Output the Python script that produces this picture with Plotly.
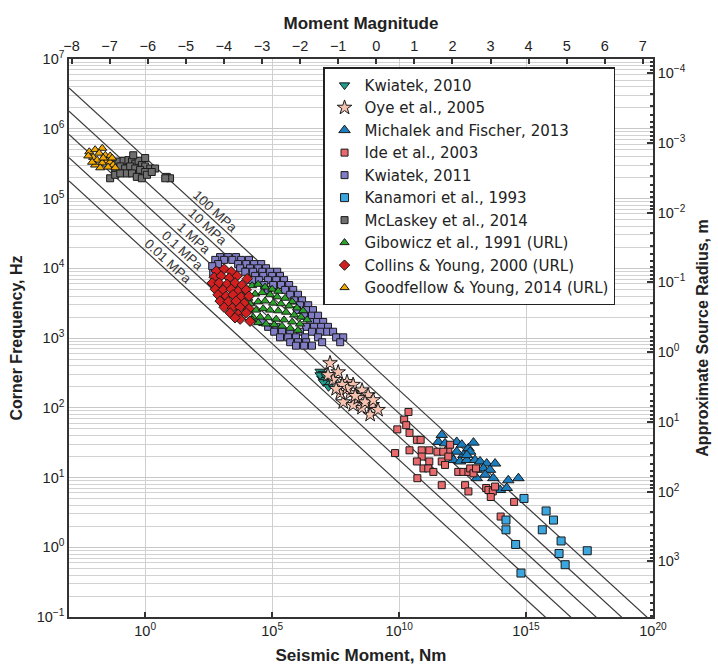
import numpy as np
import plotly.graph_objects as go

# ---------------- data (log10 values) ----------------
kwiatek2010_logM0 = [6.89, 7.02, 6.96, 7.09, 7.15, 7.02, 7.22, 6.89, 7.13]
kwiatek2010_logfc = [2.52, 2.49, 2.42, 2.40, 2.35, 2.37, 2.30, 2.47, 2.45]

oye_logM0 = [7.28, 7.60, 7.95, 8.19, 8.54, 8.78, 8.94, 8.86, 8.54, 8.19, 7.80, 7.68,
             7.40, 7.20, 8.07, 8.39, 8.66, 8.98, 7.95, 7.76, 9.17, 7.52, 8.27]
oye_logfc = [2.64, 2.51, 2.37, 2.33, 2.25, 2.18, 2.04, 1.90, 2.00, 2.04, 2.08, 2.21,
             2.40, 2.47, 2.21, 2.14, 2.08, 2.11, 2.28, 2.33, 1.97, 2.27, 2.17]

michalek_logM0 = [11.68, 11.55, 11.81, 12.27, 12.47, 12.73, 12.93, 12.80, 12.53, 12.27,
                  12.01, 12.14, 12.40, 12.67, 12.99, 13.19, 13.45, 13.78, 13.06, 13.32,
                  13.58, 13.39, 13.71, 13.98, 14.24, 14.30, 14.70, 13.06, 12.67, 11.87]
michalek_logfc = [1.61, 1.51, 1.49, 1.51, 1.47, 1.42, 1.50, 1.37, 1.32, 1.37,
                  1.32, 1.25, 1.23, 1.25, 1.25, 1.23, 1.20, 1.20, 1.11, 1.13,
                  1.11, 1.04, 0.99, 0.82, 0.85, 0.96, 0.99, 0.99, 1.32, 1.39]

ide_logM0 = [10.37, 10.20, 10.28, 9.93, 10.41, 10.70, 10.85, 10.41, 9.84, 10.89,
             11.19, 10.89, 11.19, 10.70, 10.96, 11.15, 11.35, 10.72, 11.68, 11.51,
             11.68, 11.81, 11.94, 12.01, 12.33, 12.53, 12.73, 12.80, 12.93, 13.03,
             12.60, 12.73, 13.43, 13.52, 13.69, 13.61, 13.78, 14.53, 14.00, 11.74, 11.94]
ide_logfc = [1.94, 1.83, 1.75, 1.69, 1.64, 1.54, 1.54, 1.39, 1.35, 1.39,
             1.39, 1.30, 1.23, 1.23, 1.13, 1.13, 1.08, 0.99, 0.89, 1.37,
             1.23, 1.18, 1.39, 1.47, 1.08, 1.08, 1.08, 1.13, 1.06, 1.13,
             0.89, 0.80, 0.85, 0.82, 0.80, 0.72, 0.87, 0.65, 0.44, 1.37, 1.30]

kwiatek2011_logM0 = [2.95, 3.27, 3.58,
                     2.76, 3.11, 3.43, 3.78, 4.09,
                     2.87, 3.66, 3.98, 4.29, 4.57,
                     3.74, 4.13, 4.45, 4.76,
                     3.94, 4.25, 4.61, 4.92, 5.20,
                     4.33, 4.65, 5.00, 5.31,
                     4.21, 4.49, 4.84, 5.16, 5.47,
                     4.69, 5.04, 5.35, 5.67,
                     4.84, 5.51, 5.83,
                     5.71, 6.02,
                     5.87, 6.18,
                     6.10, 6.42,
                     5.98, 6.34, 6.61,
                     6.26, 6.57, 6.81,
                     4.61, 6.50, 6.77, 7.01,
                     4.84, 5.16, 6.34, 6.65, 6.93, 7.20,
                     5.08, 5.39, 5.71, 6.10, 6.57, 6.89, 7.17, 7.40,
                     5.31, 5.63, 5.94, 6.30, 6.81, 7.52, 7.80,
                     5.71, 6.02, 6.34, 6.97, 7.68,
                     5.94, 6.26, 6.57,
                     2.64, 2.68]
kwiatek2011_logfc = [4.16, 4.16, 4.16,
                     4.12, 4.12, 4.12, 4.12, 4.12,
                     4.06, 4.06, 4.06, 4.06, 4.06,
                     4.00, 4.00, 4.00, 4.00,
                     3.95, 3.95, 3.95, 3.95, 3.95,
                     3.89, 3.89, 3.89, 3.89,
                     3.83, 3.83, 3.83, 3.83, 3.83,
                     3.76, 3.76, 3.76, 3.76,
                     3.69, 3.69, 3.69,
                     3.62, 3.62,
                     3.54, 3.54,
                     3.47, 3.47,
                     3.40, 3.40, 3.40,
                     3.32, 3.32, 3.32,
                     3.23, 3.23, 3.23, 3.23,
                     3.16, 3.16, 3.16, 3.16, 3.16, 3.16,
                     3.09, 3.09, 3.09, 3.09, 3.09, 3.09, 3.09, 3.09,
                     3.01, 3.01, 3.01, 3.01, 3.01, 3.01, 3.01,
                     2.94, 2.94, 2.94, 2.94, 2.94,
                     2.89, 2.89, 2.89,
                     4.03, 3.93]

kanamori_logM0 = [14.92, 15.79, 16.08, 15.64, 16.38, 16.30, 16.54, 17.41, 14.21, 14.21, 14.59, 14.80]
kanamori_logfc = [0.70, 0.52, 0.39, 0.25, 0.09, -0.09, -0.25, -0.05, 0.39, 0.25, 0.04, -0.37]

mclaskey_logM0 = [-1.25, -1.05, -0.85, -0.66, -0.52, -0.39, -0.26, -0.13, 0.00, 0.20,
                  0.39, -1.18, -0.98, -0.79, -0.59, -0.39, -0.20, 0.00, -1.38, -1.18,
                  -0.98, -0.72, -0.52, -0.33, -0.13, 0.07, 0.26, 0.85, 0.98, 0.79,
                  -0.47, 0.00]
mclaskey_logfc = [5.50, 5.53, 5.54, 5.55, 5.53, 5.50, 5.54, 5.48, 5.46, 5.43,
                  5.43, 5.43, 5.46, 5.43, 5.46, 5.43, 5.41, 5.38, 5.29, 5.34,
                  5.36, 5.36, 5.36, 5.31, 5.29, 5.34, 5.38, 5.31, 5.29, 5.29,
                  5.62, 5.58]

gibowicz_logM0 = [3.58, 3.74, 3.94, 4.21, 4.45, 4.72, 5.00, 5.24,
                  4.06, 4.33, 4.61, 4.92, 5.20, 5.51, 5.79,
                  3.86, 4.13, 4.45, 4.72, 5.04, 5.35, 5.67, 5.98, 6.22,
                  4.06, 4.37, 4.65, 4.92, 5.24, 5.55, 5.87, 6.14, 6.38,
                  4.25, 4.53, 4.84, 5.16, 5.47, 5.79, 6.10,
                  4.45, 4.76, 5.08, 5.39, 5.71, 6.02, 4.21, 3.74]
gibowicz_logfc = [3.54, 3.60, 3.66, 3.75, 3.77, 3.73, 3.70, 3.67,
                  3.57, 3.63, 3.65, 3.62, 3.59, 3.57, 3.52,
                  3.47, 3.49, 3.52, 3.53, 3.50, 3.49, 3.46, 3.43, 3.39,
                  3.39, 3.40, 3.42, 3.40, 3.39, 3.37, 3.33, 3.30, 3.26,
                  3.30, 3.30, 3.29, 3.27, 3.26, 3.23, 3.20,
                  3.22, 3.20, 3.19, 3.17, 3.14, 3.11, 3.26, 3.43]

collins_logM0 = [2.80, 3.11, 3.39, 2.72, 2.99, 3.31, 3.62, 4.02, 2.64, 2.91,
                 3.23, 3.54, 3.82, 2.76, 3.07, 3.39, 3.66, 3.98, 2.87, 3.19,
                 3.46, 3.78, 4.09, 2.95, 3.27, 3.58, 3.90, 3.11, 3.43, 3.74,
                 4.09, 3.35, 3.66, 3.98, 3.74, 4.13, 3.54]
collins_logfc = [3.96, 3.99, 3.95, 3.87, 3.89, 3.86, 3.89, 3.85, 3.79, 3.79,
                 3.77, 3.79, 3.76, 3.70, 3.69, 3.70, 3.67, 3.69, 3.62, 3.60,
                 3.62, 3.59, 3.60, 3.53, 3.52, 3.53, 3.50, 3.44, 3.43, 3.44,
                 3.42, 3.36, 3.34, 3.36, 3.27, 3.24, 3.29]

goodfellow_logM0 = [-2.20, -1.97, -1.69, -1.81, -2.05, -2.24, -1.89, -1.57, -1.38, -1.50,
                    -1.69, -1.38, -1.26, -1.97, -1.77, -1.46, -1.18, -1.65, -1.30, -2.09]
goodfellow_logfc = [5.67, 5.70, 5.72, 5.65, 5.59, 5.61, 5.55, 5.62, 5.61, 5.54,
                    5.51, 5.52, 5.48, 5.48, 5.44, 5.45, 5.44, 5.58, 5.58, 5.52]

stress_drops_MPa = [100, 10, 1, 0.1, 0.01]
stress_labels = ["100 MPa", "10 MPa", "1 MPa", "0.1 MPa", "0.01 MPa"]
stress_label_logM0 = [2.56, 2.24, 1.73, 1.26, 0.71]

x_tick_exps = [0, 5, 10, 15, 20]
y_tick_exps = list(range(-1, 8))
mw_ticks = list(range(-8, 8))
r_tick_exps = list(range(-4, 4))

# ---------------- constants ----------------
K_BETA = 630.0          # r = K_BETA / fc  (m)
LOGM_RANGE = [-3, 20]
LOGF_RANGE = [-1, 7]
FONT = "Liberation Sans, Arial, sans-serif"
LEG_FONT = "DejaVu Sans, Liberation Sans, sans-serif"
OUT = "#1a1a1a"


def fc_for(m0, dsig_mpa):
    return K_BETA * ((16.0 / 7.0) * dsig_mpa * 1e6 / m0) ** (1.0 / 3.0)


def sup(n):
    return "10<sup>%s</sup>" % (("\u2212%d" % -n) if n < 0 else "%d" % n)


fig = go.Figure()

# stress-drop lines
m0_line = np.logspace(LOGM_RANGE[0], LOGM_RANGE[1], 60)
for ds in stress_drops_MPa:
    fig.add_trace(go.Scatter(x=m0_line, y=fc_for(m0_line, ds), mode="lines",
                             line=dict(color="#3a3a3a", width=1.2),
                             showlegend=False, hoverinfo="skip"))

series = [
    ("Kwiatek, 2010", kwiatek2010_logM0, kwiatek2010_logfc, "triangle-down", 9, "#1f9e8e"),
    ("Oye et al., 2005", oye_logM0, oye_logfc, "star", 11, "#f5c2b0"),
    ("Michalek and Fischer, 2013", michalek_logM0, michalek_logfc, "triangle-up", 10, "#1b7dbd"),
    ("Ide et al., 2003", ide_logM0, ide_logfc, "square", 7, "#e86a6c"),
    ("Kwiatek, 2011", kwiatek2011_logM0, kwiatek2011_logfc, "square", 7, "#807dc6"),
    ("Kanamori et al., 1993", kanamori_logM0, kanamori_logfc, "square", 8, "#3ca7de"),
    ("McLaskey et al., 2014", mclaskey_logM0, mclaskey_logfc, "square", 7, "#6f6f6f"),
    ("Gibowicz et al., 1991 (URL)", gibowicz_logM0, gibowicz_logfc, "triangle-up", 8, "#2aa52a"),
    ("Collins & Young, 2000 (URL)", collins_logM0, collins_logfc, "diamond", 8, "#d21f1f"),
    ("Goodfellow & Young, 2014 (URL)", goodfellow_logM0, goodfellow_logfc, "triangle-up", 8, "#f2a900"),
]
for i, (name, lm, lf, sym, sz, col) in enumerate(series):
    fig.add_trace(go.Scatter(
        x=10 ** np.array(lm), y=10 ** np.array(lf), mode="markers", name=name,
        marker=dict(symbol=sym, size=sz, color=col, line=dict(color=OUT, width=1)),
    ))

# dummy traces to activate secondary axes
fig.add_trace(go.Scatter(x=[None], y=[None], xaxis="x2", yaxis="y", showlegend=False, hoverinfo="skip"))
fig.add_trace(go.Scatter(x=[None], y=[None], xaxis="x", yaxis="y2", showlegend=False, hoverinfo="skip"))

# stress labels
for ds, lab, lm in zip(stress_drops_MPa, stress_labels, stress_label_logM0):
    fig.add_annotation(x=lm, y=np.log10(fc_for(10 ** lm, ds)), xref="x", yref="y",
                       text=lab, showarrow=False, textangle=42.5,
                       xshift=5, yshift=6,
                       font=dict(family=FONT, size=13.5, color="#333333"))

y_minor = [m * 10.0 ** k for k in range(LOGF_RANGE[0], LOGF_RANGE[1]) for m in range(2, 10)]
r_minor = [m * 10.0 ** k for k in range(-5, 4) for m in range(2, 10)]

axis_font = dict(family=FONT, size=14.5, color="#222222")
title_font_h = dict(family=FONT, size=17, color="#222222", weight="bold")
title_font_v = dict(family=FONT, size=16, color="#222222", weight="bold")

fig.update_layout(
    width=718, height=669,
    margin=dict(l=69, r=65, t=59, b=52, autoexpand=False),
    paper_bgcolor="white", plot_bgcolor="white",
    font=dict(family=FONT, color="#222222"),
    xaxis=dict(type="log", range=LOGM_RANGE,
               tickmode="array", tickvals=[10.0 ** e for e in x_tick_exps],
               ticktext=[sup(e) for e in x_tick_exps],
               ticks="inside", ticklen=5, tickcolor="#333", tickwidth=1.5,
               showgrid=True, gridcolor="#cfcfcf", gridwidth=1.2,
               showline=True, linecolor="#333", linewidth=1.5, mirror=False,
               tickfont=axis_font, zeroline=False,
               title=dict(text="Seismic Moment, Nm", font=title_font_h, standoff=11)),
    xaxis2=dict(overlaying="x", side="top", anchor="y",
                range=[(2.0 / 3.0) * (LOGM_RANGE[0] - 9.1), (2.0 / 3.0) * (LOGM_RANGE[1] - 9.1)],
                tickmode="array", tickvals=mw_ticks,
                ticks="inside", ticklen=5, tickcolor="#333", tickwidth=1.5,
                showgrid=False, zeroline=False,
                showline=True, linecolor="#333", linewidth=1.5,
                tickfont=axis_font,
                title=dict(text="Moment Magnitude", font=title_font_h, standoff=5)),
    yaxis=dict(type="log", range=LOGF_RANGE,
               tickmode="array", tickvals=[10.0 ** e for e in y_tick_exps],
               ticktext=[sup(e) for e in y_tick_exps],
               ticks="", showgrid=True, gridcolor="#c8c8c8", gridwidth=1,
               minor=dict(tickmode="array", tickvals=y_minor, showgrid=True,
                          gridcolor="#d2d2d2", gridwidth=1, ticks=""),
               showline=True, linecolor="#333", linewidth=1.5,
               tickfont=axis_font, zeroline=False,
               title=dict(text="Corner Frequency, Hz", font=title_font_v, standoff=10)),
    yaxis2=dict(type="log", overlaying="y", side="right", anchor="x",
                range=[np.log10(K_BETA) - LOGF_RANGE[0], np.log10(K_BETA) - LOGF_RANGE[1]],
                tickmode="array", tickvals=[10.0 ** e for e in r_tick_exps],
                ticktext=[sup(e) for e in r_tick_exps],
                ticks="inside", ticklen=6, tickcolor="#333", tickwidth=1.5,
                minor=dict(tickmode="array", tickvals=r_minor, ticks="inside",
                           ticklen=3, tickcolor="#333", showgrid=False),
                showgrid=False, zeroline=False,
                showline=True, linecolor="#333", linewidth=1.5,
                tickfont=axis_font,
                title=dict(text="Approximate Source Radius, m", font=title_font_v, standoff=12)),
    legend=dict(x=0.435, y=0.985, xanchor="left", yanchor="top",
                bgcolor="white", bordercolor="#222222", borderwidth=1.5,
                font=dict(family=LEG_FONT, size=15, color="#222222"),
                itemsizing="trace"),
    showlegend=True,
)

fig.write_html("out.html")
